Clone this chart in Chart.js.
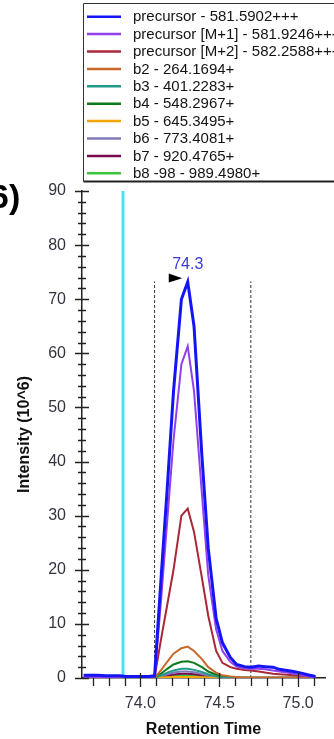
<!DOCTYPE html>
<html><head><meta charset="utf-8">
<script src="https://cdn.jsdelivr.net/npm/chart.js@4/dist/chart.umd.min.js"></script>
<style>html,body{margin:0;padding:0;background:#fff;overflow:hidden}#wrap{width:334px;height:739px;position:relative}</style>
</head><body><div id="wrap"><canvas id="c" width="334" height="739"></canvas></div>
<script>
// ---- data ----
const RT = [73.64,73.69,73.73,73.78,73.82,73.87,73.91,73.96,74.00,74.05,
            74.09,74.13,74.17,74.21,74.26,74.30,74.34,74.39,74.43,74.48,
            74.52,74.57,74.61,74.66,74.70,74.75,74.79,74.84,74.88,74.93,
            74.97,75.02,75.06,75.11];
const PRECURSOR = [0.5,0.5,0.5,0.4,0.4,0.4,0.3,0.3,0.3,0.3,
            0.4,18,35,53,70,73.2,65,41,24,11,
            6.5,3.8,2.5,2.1,2.0,2.2,2.1,2.0,1.6,1.4,
            1.2,0.9,0.6,0.3];
const PRECURSOR_M1 = [0.2,0.2,0.2,0.2,0.2,0.2,0.2,0.2,0.2,0.2,
            0.2,14,29,44,58,61.3,53,34,19,9,
            5,3,2.1,1.8,1.7,1.7,1.6,1.4,1.2,1.0,
            0.8,0.5,0.3,0.1];
const PRECURSOR_M2 = [0.1,0.1,0.1,0.1,0.1,0.1,0.1,0.1,0.1,0.1,
            0.1,7,13.5,20,30,31.3,27,18.5,11.5,5,
            2.8,2.0,1.7,1.5,1.4,1.2,1.0,0.8,0.7,0.6,
            0.5,0.4,0.3,0.2];
const B2 = [0,0,0,0,0,0,0,0,0,0,
            0,1.4,3.0,4.5,5.5,5.8,5.0,3.5,2.0,1.0,
            0.5,0.3,0.2,0.1,0.1,0.1,0.1,0.1,0.1,0.1,
            0.1,0.1,0.1,0.1];
const B3 = [0,0,0,0,0,0,0,0,0,0,
            0,0.5,1.0,1.4,1.7,1.7,1.5,1.1,0.7,0.3,
            0.1,0.1,0.05,0.05,0.05,0.05,0.05,0.05,0.05,0.05,
            0.05,0.05,0.05,0.05];
const B4 = [0,0,0,0,0,0,0,0,0,0,
            0,0.8,1.7,2.5,3.0,3.1,2.8,2.0,1.2,0.6,
            0.3,0.1,0.05,0.05,0.05,0.05,0.05,0.05,0.05,0.05,
            0.05,0.05,0.05,0.05];
const B5 = [0,0,0,0,0,0,0,0,0,0,
            0,0.1,0.15,0.2,0.2,0.2,0.2,0.15,0.1,0.1,
            0.05,0.05,0,0,0,0,0,0,0,0,
            0,0,0,0];
const B6 = [0,0,0,0,0,0,0,0,0,0,
            0,0.3,0.7,1.0,1.2,1.2,1.05,0.75,0.45,0.2,
            0.1,0.05,0.05,0.05,0.05,0.05,0.05,0.05,0.05,0.05,
            0.05,0.05,0.05,0.05];
const B7 = [0,0,0,0,0,0,0,0,0,0,
            0,0.2,0.45,0.65,0.8,0.8,0.7,0.5,0.3,0.15,
            0.05,0.05,0,0,0,0,0,0,0,0,
            0,0,0,0];
const B8 = [0,0,0,0,0,0,0,0,0,0,
            0,0.15,0.3,0.4,0.5,0.5,0.45,0.3,0.2,0.1,
            0.05,0,0,0,0,0,0,0,0,0,
            0,0,0,0];
const SERIES = [PRECURSOR, PRECURSOR_M1, PRECURSOR_M2, B2, B3, B4, B5, B6, B7, B8];
const SERIES_LABELS = ['precursor - 581.5902+++','precursor [M+1] - 581.9246+++','precursor [M+2] - 582.2588+++',
  'b2 - 264.1694+','b3 - 401.2283+','b4 - 548.2967+','b5 - 645.3495+','b6 - 773.4081+','b7 - 920.4765+','b8 -98 - 989.4980+'];
const SERIES_COLORS = ['#1414f5','#9040ee','#a82838','#c8682a','#20988a','#0a7a1a','#f5a500','#7c7cb4','#7a0a50','#3cc43c'];
const X_MAJOR_TICKS = [74.0, 74.5, 75.0];
const Y_MAX = 90, Y_STEP = 10, Y_MINOR_STEP = 2;
const X_MIN = 73.63, X_MAX = 75.17, X_MINOR_STEP = 0.1;
const MARKER_RT = 73.89;
const BOUNDARY_LEFT = 74.09, BOUNDARY_RIGHT = 74.70, BOUNDARY_TOP = 73.3;
const PEAK_LABEL = '74.3';
const PANEL_LABEL = '6)';
const Y_TITLE = 'Intensity (10^6)';
const X_TITLE = 'Retention Time';

// ---- datasets ----
const datasets = SERIES.map((vals, i) => ({
  label: SERIES_LABELS[i],
  data: vals.map((v, j) => ({x: RT[j], y: v})),
  borderColor: SERIES_COLORS[i],
  backgroundColor: SERIES_COLORS[i],
  borderWidth: i === 0 ? 3 : 2,
  pointRadius: 0,
  tension: 0,
  order: 0
}));
datasets.push({label:'marker', isRef:true, data:[{x:MARKER_RT,y:0},{x:MARKER_RT,y:Y_MAX}],
  borderColor:'#48e4f4', borderWidth:3, pointRadius:0, order:2});
datasets.push({label:'left boundary', isRef:true, data:[{x:BOUNDARY_LEFT,y:0},{x:BOUNDARY_LEFT,y:BOUNDARY_TOP}],
  borderColor:'#333', borderWidth:1, borderDash:[3,2], pointRadius:0, order:1});
datasets.push({label:'right boundary', isRef:true, data:[{x:BOUNDARY_RIGHT,y:0},{x:BOUNDARY_RIGHT,y:BOUNDARY_TOP}],
  borderColor:'#333', borderWidth:1, borderDash:[3,2], pointRadius:0, order:1});

const decor = {
  id: 'decor',
  afterDraw(chart) {
    const ctx = chart.ctx, xs = chart.scales.x, ys = chart.scales.y;
    const ax = ys.right, ay = xs.top;
    ctx.save();
    // y ticks (crossing)
    ctx.strokeStyle = '#222'; ctx.lineWidth = 1.3;
    ctx.beginPath();
    for (let v = 0; v <= Y_MAX; v += Y_MINOR_STEP) {
      const py = Math.round(ys.getPixelForValue(v)) + 0.5;
      const a = (v % Y_STEP === 0) ? 7 : 4;
      ctx.moveTo(ax - a, py); ctx.lineTo(ax + a, py);
    }
    // x ticks
    const k0 = Math.ceil(X_MIN / X_MINOR_STEP), k1 = Math.floor(X_MAX / X_MINOR_STEP);
    for (let k = k0; k <= k1; k++) {
      const v = k * X_MINOR_STEP;
      const px = Math.round(xs.getPixelForValue(v)) + 0.5;
      const major = X_MAJOR_TICKS.some(t => Math.abs(t - v) < 1e-6);
      if (major) { ctx.moveTo(px, ay - 5); ctx.lineTo(px, ay + 9); }
      else { ctx.moveTo(px, ay); ctx.lineTo(px, ay + 8); }
    }
    ctx.stroke();

    // peak label + arrowhead
    const meta = chart.getDatasetMeta(0);
    let im = 0; PRECURSOR.forEach((v, i) => { if (v > PRECURSOR[im]) im = i; });
    const pt = meta.data[im];
    ctx.fillStyle = '#3a3ae0';
    ctx.font = '16px "Liberation Sans", Arial, sans-serif';
    ctx.textAlign = 'center'; ctx.textBaseline = 'alphabetic';
    ctx.fillText(PEAK_LABEL, pt.x, pt.y - 12.5);
    ctx.fillStyle = '#000';
    ctx.beginPath();
    ctx.moveTo(pt.x - 19, pt.y - 8.5);
    ctx.lineTo(pt.x - 5.5, pt.y - 3.7);
    ctx.lineTo(pt.x - 19, pt.y + 0.5);
    ctx.closePath(); ctx.fill();

    // legend box
    const L = 83.5, T = 3.5, B = 181.5;
    ctx.strokeStyle = '#333'; ctx.lineWidth = 1;
    ctx.beginPath();
    ctx.moveTo(340, T); ctx.lineTo(L, T); ctx.lineTo(L, B); ctx.stroke();
    ctx.lineWidth = 2; ctx.strokeStyle = '#222';
    ctx.beginPath(); ctx.moveTo(L, B); ctx.lineTo(340, B); ctx.stroke();
    ctx.font = '15px "Liberation Sans", Arial, sans-serif';
    ctx.textAlign = 'left'; ctx.textBaseline = 'middle';
    let row = 0;
    chart.data.datasets.forEach(ds => {
      if (ds.isRef) return;
      const y = 16.7 + row * 17.4;
      ctx.strokeStyle = ds.borderColor; ctx.lineWidth = 2.5;
      ctx.beginPath(); ctx.moveTo(87, y); ctx.lineTo(121, y); ctx.stroke();
      ctx.fillStyle = '#141414';
      ctx.fillText(ds.label, 133, y + 0.5);
      row++;
    });

    // panel label
    ctx.fillStyle = '#000';
    ctx.font = 'bold 34px "Liberation Sans", Arial, sans-serif';
    ctx.textAlign = 'left'; ctx.textBaseline = 'alphabetic';
    ctx.fillText(PANEL_LABEL, -10, 208);
    ctx.restore();
  }
};

new Chart(document.getElementById('c'), {
  type: 'line',
  data: { datasets },
  options: {
    responsive: false,
    animation: false,
    events: [],
    layout: { padding: { left: 0, right: 9, top: 191, bottom: 0 } },
    plugins: { legend: { display: false }, tooltip: { enabled: false } },
    scales: {
      x: {
        type: 'linear', min: X_MIN, max: X_MAX,
        afterBuildTicks: s => { s.ticks = X_MAJOR_TICKS.map(v => ({ value: v })); },
        afterFit: s => { s.height = 61; },
        grid: { display: false, drawTicks: false },
        border: { display: true, color: '#222', width: 1.5 },
        ticks: { padding: 16, color: '#333340', autoSkip: false, maxRotation: 0,
                 font: { family: '"Liberation Sans", Arial, sans-serif', size: 16 },
                 callback: v => Number(v).toFixed(1) },
        title: { display: true, text: X_TITLE, color: '#111', padding: { top: 0, bottom: 0 },
                 font: { family: '"Liberation Sans", Arial, sans-serif', size: 16, weight: 'bold' } }
      },
      y: {
        min: 0, max: Y_MAX,
        afterFit: s => { s.width = 82; },
        grid: { display: false, drawTicks: false },
        border: { display: true, color: '#222', width: 1.5 },
        ticks: { stepSize: Y_STEP, padding: 16, color: '#333340',
                 font: { family: '"Liberation Sans", Arial, sans-serif', size: 16 } },
        title: { display: true, text: Y_TITLE, color: '#111', padding: { top: 15, bottom: 0 },
                 font: { family: '"Liberation Sans", Arial, sans-serif', size: 16, weight: 'bold' } }
      }
    }
  },
  plugins: [decor]
});
</script>
</body></html>
